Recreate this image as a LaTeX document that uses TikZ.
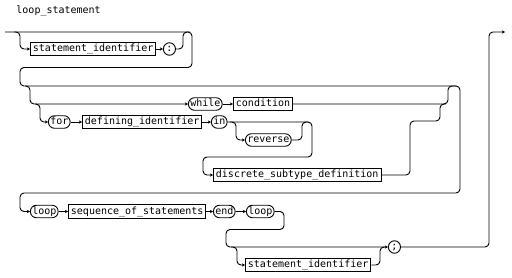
\documentclass[tikz,border=0pt]{standalone}
\usepackage{fontspec}
\newfontfamily\rrfont{DejaVu Sans Mono}
\usetikzlibrary{arrows.meta}
\begin{document}
\begin{tikzpicture}[x=1pt,y=-1pt,line width=0.9pt,
  rr/.style={rounded corners=4pt},
  arr/.style={-{Stealth[length=3.2pt,width=3.4pt]}},
  lbl/.style={font=\rrfont\fontsize{10}{11}\selectfont, text height=7.2pt, text depth=2pt},
  term/.style={lbl, draw, rectangle, rounded corners=6pt, minimum height=12.5pt, minimum width=12pt, inner xsep=1.8pt, inner ysep=0pt, anchor=west},
  nonterm/.style={lbl, draw, rectangle, minimum height=13.5pt, inner xsep=2.5pt, inner ysep=0pt, anchor=west}
]
\useasboundingbox (0,0) rectangle (512,278);
\node[lbl, anchor=west, inner sep=0pt] (title) at (16,11) {loop\_statement};
% row 1
\node[nonterm] (sid1) at (30,49) {statement\_identifier};
\node[term] (colon) at (163,49) {:};
% iteration scheme
\node[term] (while) at (188,104) {while};
\node[nonterm] (cond) at (233,104) {condition};
\node[term] (for) at (48,122) {for};
\node[nonterm] (defid) at (82,122) {defining\_identifier};
\node[term] (in) at (211,122) {in};
\node[term] (rev) at (245,140) {reverse};
\node[nonterm] (disc) at (213,175) {discrete\_subtype\_definition};
% loop row
\node[term] (loop1) at (30,211.5) {loop};
\node[nonterm] (seq) at (68,211.5) {sequence\_of\_statements};
\node[term] (end) at (213,211.5) {end};
\node[term] (loop2) at (246,211.5) {loop};
\node[nonterm] (sid2) at (245,265) {statement\_identifier};
\node[term] (semi) at (388,247) {;};
% coordinates
\coordinate (start) at (5,32);
\coordinate (b1) at (14,32);
\coordinate (m1) at (190,32);
\coordinate (b2) at (25,86);
\coordinate (m2) at (456,86);
\coordinate (b3) at (35,104);
\coordinate (m3) at (446,104);
\coordinate (b4) at (230,122);
\coordinate (m4) at (308,122);
\coordinate (b5) at (231,247);
\coordinate (m5) at (386,247);
\coordinate (exit) at (505,32);
% main wrap path
\draw[rr,arr] (start) -- (192,32) -- (192,67.5) -- (20,67.5) -- (20,86) -- (460,86) -- (460,193) -- (20,193) -- (20,211.5) -- (loop1.west);
% row 1 optional
\draw[rr,arr] (b1) -- (20,32) -- (20,49) -- (sid1.west);
\draw[arr] (sid1.east) -- (colon.west);
\draw[rr] (colon.east) -- (183,49) -- (183,32) -- (m1);
% while branch
\draw[rr,arr] (b2) -- (30,86) -- (30,104) -- (while.west);
\draw[arr] (while.east) -- (cond.west);
\draw[rr] (cond.east) -- (448,104) -- (448,86) -- (m2);
% for branch
\draw[rr,arr] (b3) -- (40,104) -- (40,122) -- (for.west);
\draw[arr] (for.east) -- (defid.west);
\draw[arr] (defid.east) -- (in.west);
\draw[rr,arr] (in.east) -- (312,122) -- (312,157) -- (203,157) -- (203,175) -- (disc.west);
\draw[rr,arr] (b4) -- (236,122) -- (236,140) -- (rev.west);
\draw[rr] (rev.east) -- (302,140) -- (302,122) -- (m4);
\draw[rr] (disc.east) -- (410,175) -- (410,121) -- (440,121) -- (440,104) -- (m3);
% loop row
\draw[arr] (loop1.east) -- (seq.west);
\draw[arr] (seq.east) -- (end.west);
\draw[arr] (end.east) -- (loop2.west);
\draw[rr,arr] (loop2.east) -- (284,211.5) -- (284,229.5) -- (226,229.5) -- (226,247) -- (semi.west);
\draw[rr,arr] (b5) -- (237,247) -- (237,265) -- (sid2.west);
\draw[rr] (sid2.east) -- (380,265) -- (380,247) -- (m5);
\draw[rr,arr] (semi.east) -- (489,247) -- (489,32) -- (exit);
\end{tikzpicture}
\end{document}
